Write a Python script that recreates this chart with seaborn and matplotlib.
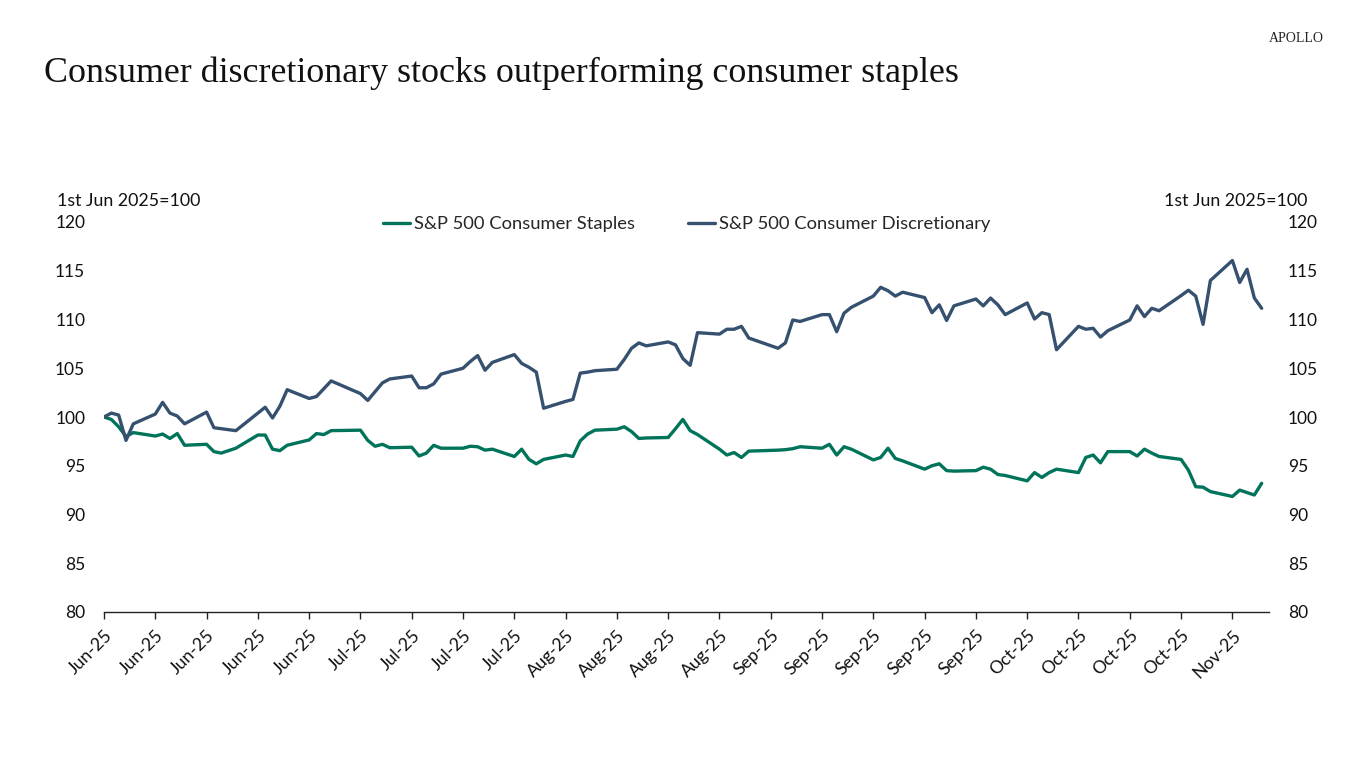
import matplotlib
matplotlib.use("Agg")
import matplotlib.pyplot as plt
import pandas as pd
import seaborn as sns

# trading days from 2 Jun 2025 (US market holidays left out)
holidays = ["2025-06-19", "2025-07-04", "2025-09-01"]
dates = pd.bdate_range("2025-06-02", "2025-11-07").drop(pd.to_datetime(holidays))

# rebased to 1st Jun 2025 = 100
staples = [
    100.0, 99.75, 99.0, 98.0, 98.4,
    98.05, 98.25, 97.8, 98.3, 97.1,
    97.2, 96.45, 96.3, 96.8,
    98.15, 98.15, 96.7, 96.55, 97.1,
    97.65, 98.3, 98.2, 98.6,
    98.65, 97.6, 97.0, 97.2, 96.85,
    96.9, 96.0, 96.3, 97.1, 96.8,
    96.8, 97.0, 96.95, 96.6, 96.7,
    95.95, 96.7, 95.65, 95.2, 95.65,
    96.1, 95.95, 97.55, 98.25, 98.65,
    98.75, 99.0, 98.5, 97.8, 97.85,
    97.9, 98.8, 99.75, 98.6, 98.2,
    96.7, 96.1, 96.35, 95.85, 96.5,
    96.6, 96.65, 96.75, 96.95,
    96.8, 97.2, 96.1, 96.95, 96.7,
    95.6, 95.85, 96.8, 95.75, 95.5,
    94.65, 95.0, 95.2, 94.5, 94.45,
    94.5, 94.85, 94.65, 94.1, 94.0,
    93.45, 94.3, 93.8, 94.3, 94.65,
    94.3, 95.85, 96.1, 95.3, 96.45,
    96.45, 96.0, 96.7, 96.3, 95.95,
    95.65, 94.55, 92.85, 92.8, 92.35,
    91.85, 92.5, 92.25, 92.0, 93.2,
]
discretionary = [
    100.0, 100.4, 100.2, 97.6, 99.3,
    100.3, 101.5, 100.4, 100.1, 99.3,
    100.5, 98.9, 98.8, 98.6,
    100.4, 101.0, 99.9, 101.1, 102.8,
    101.9, 102.1, 102.9, 103.7,
    102.4, 101.7, 102.6, 103.5, 103.9,
    104.2, 103.0, 103.0, 103.4, 104.4,
    105.0, 105.7, 106.3, 104.8, 105.6,
    106.4, 105.5, 105.1, 104.6, 100.9,
    101.6, 101.8, 104.5, 104.6, 104.75,
    104.9, 105.9, 107.05, 107.6, 107.3,
    107.7, 107.4, 106.0, 105.3, 108.65,
    108.5, 109.0, 109.0, 109.3, 108.1,
    107.05, 107.6, 109.95, 109.8,
    110.5, 110.5, 108.75, 110.65, 111.25,
    112.4, 113.3, 112.95, 112.4, 112.8,
    112.25, 110.7, 111.5, 109.9, 111.4,
    112.1, 111.4, 112.2, 111.5, 110.5,
    111.7, 110.05, 110.7, 110.5, 106.9,
    109.3, 109.0, 109.1, 108.2, 108.85,
    109.95, 111.4, 110.3, 111.15, 110.9,
    112.45, 113.0, 112.4, 109.5, 114.0,
    116.05, 113.8, 115.15, 112.2, 111.15,
]

series_names = ["S&P 500 Consumer Staples", "S&P 500 Consumer Discretionary"]
series_colors = ["#00745A", "#36516F"]
y_ticks = [80, 85, 90, 95, 100, 105, 110, 115, 120]
x_ticks = pd.date_range("2025-06-02", "2025-11-03", freq="7D")
x_labels = [d.strftime("%b-%y") for d in x_ticks]

df = pd.DataFrame({
    "date": list(dates) * 2,
    "value": staples + discretionary,
    "series": [series_names[0]] * len(dates) + [series_names[1]] * len(dates),
})

sns.set_theme(style="white")
plt.rcParams["font.family"] = ["Lato", "DejaVu Sans"]

fig = plt.figure(figsize=(13.66, 7.68), dpi=100)
ax = fig.add_axes([104 / 1366, 1 - 612 / 768, 1165 / 1366, 390 / 768])

sns.lineplot(data=df, x="date", y="value", hue="series", hue_order=series_names,
             palette=series_colors, linewidth=2.4, ax=ax)

ax.set_xlim(dates[0], pd.Timestamp("2025-11-08"))
ax.set_ylim(80, 120)
ax.set_yticks(y_ticks)
ax.set_xticks(x_ticks)
ax.set_xticklabels(x_labels, rotation=45, ha="right", va="top", rotation_mode="anchor")
ax.set_xlabel("")
ax.set_ylabel("")

for side in ["top", "left", "right"]:
    ax.spines[side].set_visible(False)
ax.spines["bottom"].set_color("#222222")
ax.spines["bottom"].set_linewidth(1.0)

ax.tick_params(axis="x", bottom=True, length=5, width=1, color="#222222",
               labelsize=12.8, pad=6, labelcolor="#111111")
ax.tick_params(axis="y", left=False, right=False, labelleft=True, labelright=True,
               labelsize=12.5, pad=7.5, labelcolor="#111111")

ax.legend(loc="center", bbox_to_anchor=(0.5, 0.995), ncol=2, frameon=False,
          fontsize=13.2, handlelength=1.5, handletextpad=0.2, columnspacing=2.9)

fig.text(57 / 1366, 1 - 201 / 768, "1st Jun 2025=100", ha="left", va="center",
         fontsize=12.8, color="#111111")
fig.text(1307 / 1366, 1 - 201 / 768, "1st Jun 2025=100", ha="right", va="center",
         fontsize=12.8, color="#111111")

fig.text(44 / 1366, 1 - 73 / 768, "Consumer discretionary stocks outperforming consumer staples",
         ha="left", va="center", fontsize=25.8, family="Liberation Serif", color="#111111")
fig.text(1324 / 1366, 1 - 38 / 768, "APOLLO", ha="right", va="center",
         fontsize=10, family="Liberation Serif", color="#222222")

fig.savefig("out.png", dpi=100, facecolor="white")
plt.close(fig)
